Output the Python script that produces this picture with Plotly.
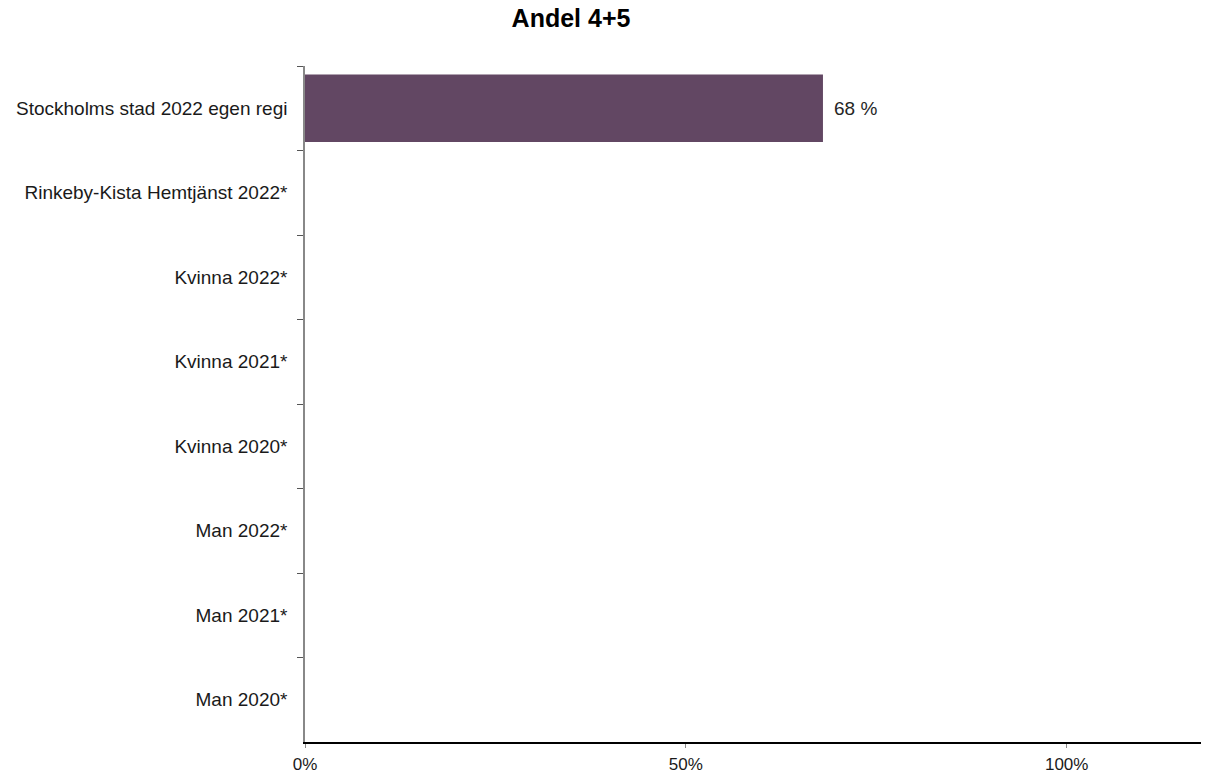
import plotly.graph_objects as go

categories = [
    "Stockholms stad 2022 egen regi",
    "Rinkeby-Kista Hemtjänst 2022*",
    "Kvinna 2022*",
    "Kvinna 2021*",
    "Kvinna 2020*",
    "Man 2022*",
    "Man 2021*",
    "Man 2020*",
]
values = [0.68, None, None, None, None, None, None, None]
value_labels = ["68 %", "", "", "", "", "", "", ""]
x_tickvals = [0, 0.5, 1.0]
x_ticktext = ["0%", "50%", "100%"]

FONT = "Liberation Sans, Arial, sans-serif"
W, H = 1201, 765  # page body has an 8px margin

fig = go.Figure()
fig.add_trace(go.Bar(
    y=categories,
    x=values,
    orientation="h",
    marker=dict(color="#624763", line=dict(width=0)),
    hoverinfo="skip",
))

for c, v, t in zip(categories, values, value_labels):
    if v is not None and t:
        fig.add_annotation(x=v, y=c, text=t, showarrow=False, xanchor="left",
                           xshift=9, font=dict(size=19, color="#262626", family=FONT))

fig.update_layout(
    width=W, height=H,
    paper_bgcolor="white", plot_bgcolor="white",
    margin=dict(l=297, r=0, t=58, b=31, autoexpand=False),
    bargap=0.2,
    showlegend=False,
    font=dict(family=FONT, size=19, color="#1a1a1a"),
    title=dict(text="<b>Andel 4+5</b>", x=(571 - 8) / W, xref="container", xanchor="center",
               y=1 - 10 / H, yref="container", yanchor="middle",
               font=dict(size=25, color="#000000", family=FONT)),
)
fig.update_xaxes(
    range=[0, 904 / 761.7], tickvals=x_tickvals, ticktext=x_ticktext,
    showgrid=False, zeroline=False, showline=True, linecolor="#000000", linewidth=1.5,
    ticks="outside", ticklen=4, tickcolor="#888888", tickwidth=1,
    ticklabelstandoff=2,
    tickfont=dict(size=17, color="#1a1a1a"),
)
fig.update_yaxes(
    categoryorder="array", categoryarray=categories, autorange="reversed",
    showgrid=False, zeroline=False, showline=True, linecolor="#888888", linewidth=1.5,
    ticks="outside", ticklen=6, tickcolor="#555555", tickson="boundaries",
    ticklabelstandoff=12,
    tickfont=dict(size=19, color="#1a1a1a"),
)

fig.write_html("out.html")
